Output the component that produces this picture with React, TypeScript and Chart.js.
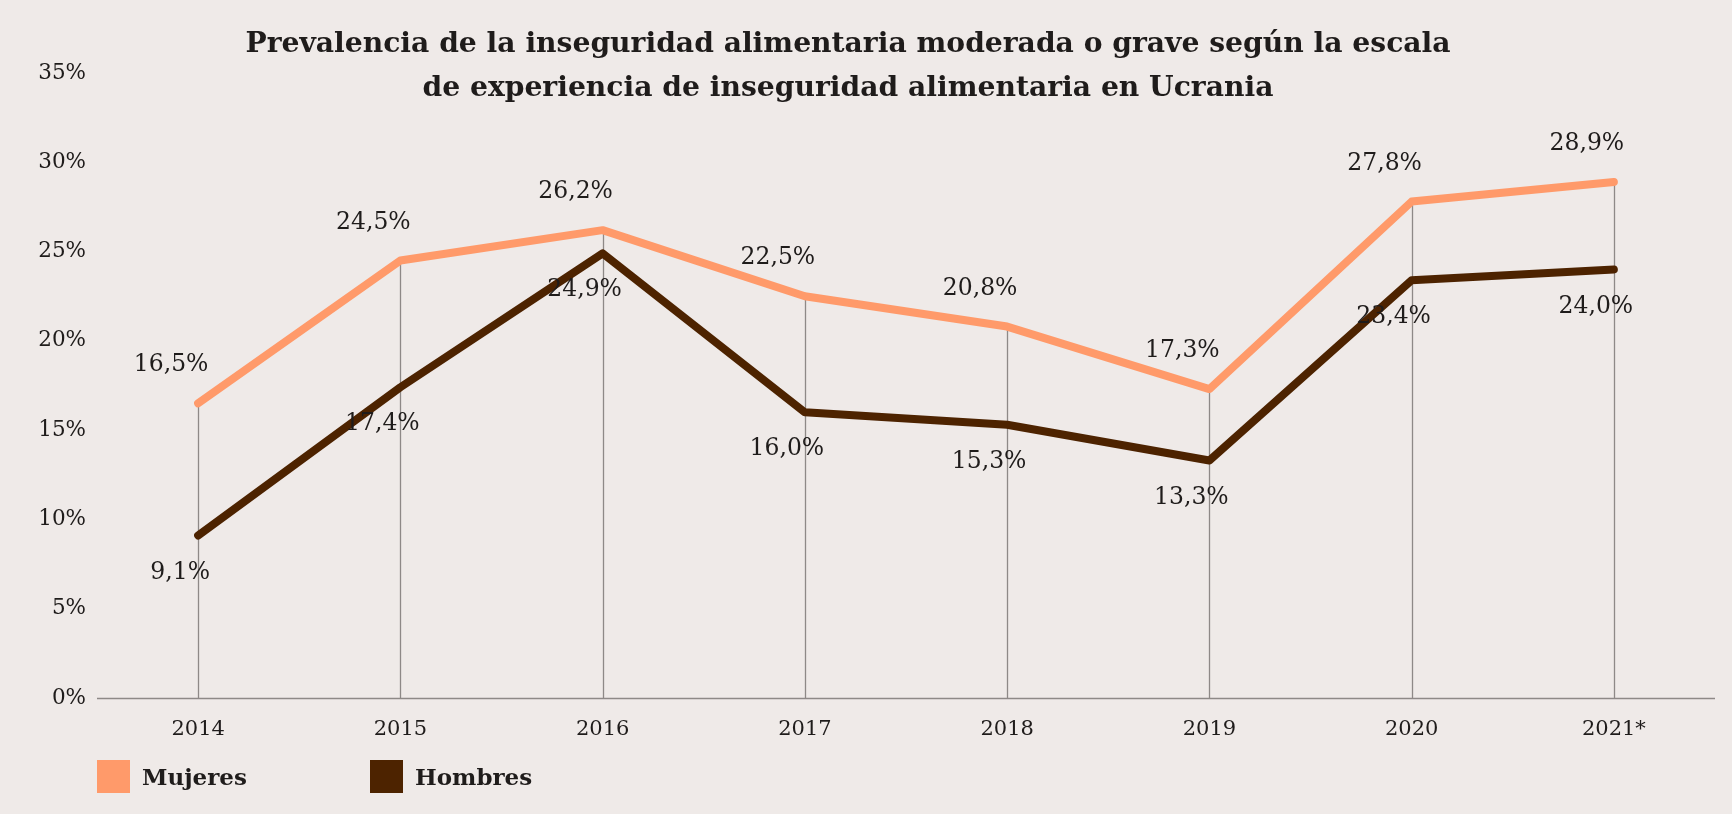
import React, { useEffect, useRef } from "react";
import { Chart, registerables } from "chart.js";

Chart.register(...registerables);

const categories = ["2014", "2015", "2016", "2017", "2018", "2019", "2020", "2021*"];
const mujeres = [16.5, 24.5, 26.2, 22.5, 20.8, 17.3, 27.8, 28.9];
const hombres = [9.1, 17.4, 24.9, 16.0, 15.3, 13.3, 23.4, 24.0];
const yTicks = [0, 5, 10, 15, 20, 25, 30, 35];
const titleLines = [
  "Prevalencia de la inseguridad alimentaria moderada o grave según la escala",
  "de experiencia de inseguridad alimentaria en Ucrania",
];
const seriesNames = ["Mujeres", "Hombres"];

const BG = "#efeae8";
const SALMON = "#ff9a6a";
const BROWN = "#4d2300";
const GRID = "#8e8987";
const TEXT = "#1f1c1b";
const FONT = "'DejaVu Serif', serif";

const fmt = (v: number) => v.toFixed(1).replace(".", ",") + "%";

const dropLines = {
  id: "dropLines",
  beforeDatasetsDraw(chart: any) {
    const { ctx, scales } = chart;
    const x = scales.x;
    const y = scales.y;
    ctx.save();
    ctx.strokeStyle = GRID;
    ctx.lineWidth = 1.3;
    categories.forEach((_, i) => {
      const top = Math.max(mujeres[i], hombres[i]);
      const px = Math.round(x.getPixelForValue(i)) + 0.5;
      ctx.beginPath();
      ctx.moveTo(px, y.getPixelForValue(top));
      ctx.lineTo(px, y.getPixelForValue(0));
      ctx.stroke();
    });
    ctx.beginPath();
    ctx.moveTo(chart.chartArea.left, Math.round(y.getPixelForValue(0)) + 0.5);
    ctx.lineTo(chart.chartArea.right, Math.round(y.getPixelForValue(0)) + 0.5);
    ctx.stroke();
    ctx.restore();
  },
};

const valueLabels = {
  id: "valueLabels",
  afterDatasetsDraw(chart: any) {
    const { ctx } = chart;
    ctx.save();
    ctx.font = `23.5px ${FONT}`;
    ctx.fillStyle = TEXT;
    ctx.textAlign = "center";
    ctx.textBaseline = "middle";
    chart.data.datasets.forEach((ds: any, di: number) => {
      const meta = chart.getDatasetMeta(di);
      meta.data.forEach((pt: any, i: number) => {
        const v = ds.data[i];
        const dx = di === 0 ? -27 : -18;
        const dy = di === 0 ? -38 : 37;
        ctx.fillText(fmt(v), pt.x + dx, pt.y + dy);
      });
    });
    ctx.restore();
  },
};

const bgPlugin = {
  id: "bg",
  beforeDraw(chart: any) {
    const { ctx } = chart;
    ctx.save();
    ctx.fillStyle = BG;
    ctx.fillRect(0, 0, chart.width, chart.height);
    ctx.restore();
  },
};

export default function App() {
  const ref = useRef<HTMLCanvasElement>(null);

  useEffect(() => {
    document.body.style.margin = "0";
    document.body.style.background = BG;
    if (!ref.current) return;
    const chart = new Chart(ref.current, {
      type: "line",
      data: {
        labels: categories,
        datasets: [
          {
            label: seriesNames[0],
            data: mujeres,
            borderColor: SALMON,
            backgroundColor: SALMON,
            borderWidth: 8,
            pointRadius: 0,
            borderCapStyle: "round",
            borderJoinStyle: "round",
          },
          {
            label: seriesNames[1],
            data: hombres,
            borderColor: BROWN,
            backgroundColor: BROWN,
            borderWidth: 8,
            pointRadius: 0,
            borderCapStyle: "round",
            borderJoinStyle: "round",
          },
        ],
      },
      options: {
        animation: false,
        responsive: false,
        devicePixelRatio: 1,
        layout: { padding: { left: 0, right: 17, top: 73, bottom: 0 } },
        plugins: {
          legend: { display: false },
          title: { display: false },
          tooltip: { enabled: false },
        },
        scales: {
          x: {
            offset: true,
            grid: { display: false, drawTicks: false },
            border: { display: false },
            ticks: {
              color: TEXT,
              font: { family: FONT, size: 21 },
              padding: 19,
            },
            afterFit(scale: any) {
              scale.height = 116;
            },
          },
          y: {
            min: 0,
            max: 35,
            afterBuildTicks(scale: any) {
              scale.ticks = yTicks.map((v) => ({ value: v }));
            },
            grid: { display: false, drawTicks: false },
            border: { display: false },
            ticks: {
              color: TEXT,
              font: { family: FONT, size: 21.5 },
              padding: 11,
              callback: (v: any) => `${v}%`,
            },
            afterFit(scale: any) {
              scale.width = 97;
            },
          },
        },
      },
      plugins: [bgPlugin, dropLines, valueLabels],
    });
    return () => chart.destroy();
  }, []);

  const legendItem = (name: string, color: string, left: number) => (
    <div
      key={name}
      style={{
        position: "absolute",
        left,
        top: 760,
        display: "flex",
        alignItems: "center",
      }}
    >
      <div style={{ width: 33, height: 33, background: color, marginRight: 12 }} />
      <span style={{ fontFamily: FONT, fontWeight: "bold", fontSize: 23, color: TEXT }}>{name}</span>
    </div>
  );

  return (
    <div style={{ position: "relative", width: 1732, height: 814, background: BG, overflow: "hidden" }}>
      <canvas ref={ref} width={1732} height={814} style={{ position: "absolute", left: 0, top: 0 }} />
      <div
        style={{
          position: "absolute",
          left: 0,
          width: 1696,
          top: 21,
          textAlign: "center",
          fontFamily: FONT,
          fontWeight: "bold",
          fontSize: 28.2,
          lineHeight: "44px",
          color: TEXT,
        }}
      >
        {titleLines.map((l) => (
          <div key={l}>{l}</div>
        ))}
      </div>
      {legendItem(seriesNames[0], SALMON, 97)}
      {legendItem(seriesNames[1], BROWN, 370)}
    </div>
  );
}
